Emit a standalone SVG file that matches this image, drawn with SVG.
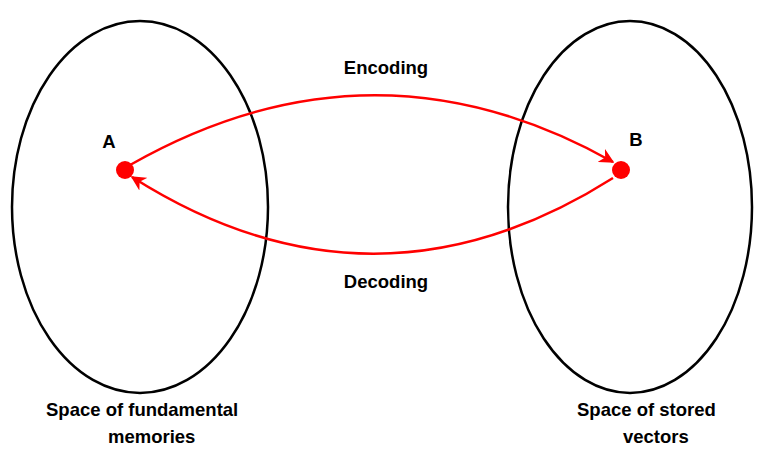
<svg xmlns="http://www.w3.org/2000/svg" width="760" height="451" viewBox="0 0 760 451">
<defs>
<style>
.space{fill:none;stroke:#000;stroke-width:2.5}
.lbl{font-family:"Liberation Sans",Arial,sans-serif;font-weight:bold;font-size:18.5px;fill:#000}
.arc{fill:none;stroke:#ff0000;stroke-width:2.5}
.pt{fill:#ff0000}
</style>
<marker id="ah" viewBox="0 0 10 10" refX="9" refY="5" markerWidth="6" markerHeight="6" markerUnits="strokeWidth" orient="auto">
<path d="M0,0 L10,5 L0,10 L3,5 Z" fill="#ff0000"/>
</marker>
</defs>
<g id="space-fundamental">
<ellipse class="space" cx="140" cy="207" rx="128" ry="186"/>
<text class="lbl" x="46" y="416">Space of fundamental</text>
<text class="lbl" x="108" y="443">memories</text>
</g>
<g id="space-stored">
<ellipse class="space" cx="630" cy="207" rx="122" ry="186"/>
<text class="lbl" x="577" y="416">Space of stored</text>
<text class="lbl" x="623" y="443">vectors</text>
</g>
<g id="connectors">
<path class="arc" d="M130,165 Q373,27 613,162" marker-end="url(#ah)"/>
<path class="arc" d="M613,178 Q373,330 132,177" marker-end="url(#ah)"/>
<text class="lbl" x="386" y="74" text-anchor="middle">Encoding</text>
<text class="lbl" x="386" y="288" text-anchor="middle">Decoding</text>
</g>
<g id="node-A">
<circle class="pt" cx="125" cy="170" r="9"/>
<text class="lbl" x="109" y="148" text-anchor="middle">A</text>
</g>
<g id="node-B">
<circle class="pt" cx="621" cy="170" r="9"/>
<text class="lbl" x="636" y="146" text-anchor="middle">B</text>
</g>
</svg>
